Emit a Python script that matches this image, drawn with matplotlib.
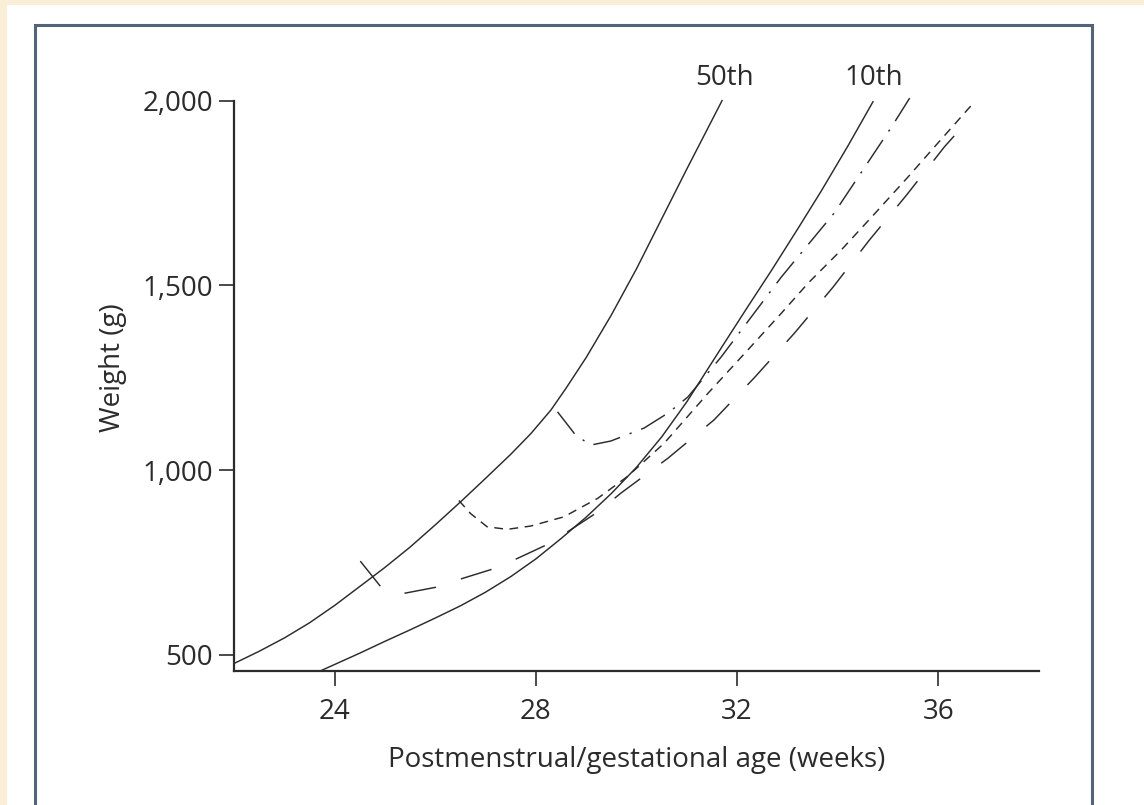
import matplotlib.pyplot as plt
from matplotlib.patches import Rectangle

# values (weeks, grams)
p50_weeks = [22.0, 22.5, 23.0, 23.5, 24.0, 24.71, 25.0, 25.5, 26.0, 26.5, 27.0, 27.5, 27.9,
             28.3, 28.6, 29.0, 29.5, 30.0, 30.5, 31.0, 31.7]
p50_weight = [477, 510, 546, 587, 634, 707, 737, 792, 852, 914, 978, 1043, 1099,
              1163, 1222, 1305, 1420, 1545, 1680, 1815, 2000]

p10_weeks = [23.75, 24.5, 25.0, 25.5, 26.0, 26.5, 27.0, 27.5, 28.0, 28.5, 29.0, 29.5, 30.0,
             30.5, 31.0, 31.68, 32.2, 32.68, 33.2, 33.67, 34.2, 34.7]
p10_weight = [459, 505, 537, 568, 600, 633, 670, 712, 760, 815, 873, 937, 1008,
              1090, 1185, 1330, 1440, 1540, 1652, 1755, 1877, 1997]

# postnatal course, birth at 24.5 weeks
long_weeks = [24.51, 24.95, 25.31, 26.04, 26.56, 27.2, 27.66, 28.29, 29.23, 29.69, 30.63,
              31.54, 32.34, 33.14, 33.91, 34.63, 35.37, 36.12, 36.58]
long_weight = [754, 679, 665, 684, 708, 735, 763, 803, 887, 938, 1033,
               1136, 1250, 1371, 1496, 1623, 1745, 1875, 1945]

# birth at 26.5 weeks
dot_weeks = [26.47, 26.7, 27.03, 27.43, 27.9, 28.56, 29.23, 29.82, 30.55, 31.42, 32.21,
             32.88, 33.41, 34.07, 34.74, 35.4, 35.93, 36.66]
dot_weight = [918, 883, 847, 840, 849, 874, 924, 983, 1073, 1208, 1325,
              1425, 1506, 1596, 1695, 1794, 1876, 1988]

# birth at 28.5 weeks
dd_weeks = [28.43, 28.79, 29.09, 29.49, 30.15, 30.63, 31.02, 31.68, 32.88, 33.93, 35.07, 35.43]
dd_weight = [1158, 1095, 1068, 1079, 1114, 1155, 1198, 1306, 1523, 1696, 1929, 2007]

xticks = [24, 28, 32, 36]
yticks = [500, 1000, 1500, 2000]
ytick_labels = ['500', '1,000', '1,500', '2,000']
curve_labels = [('50th', 31.74), ('10th', 34.71)]

plt.rcParams['font.family'] = ['Open Sans', 'DejaVu Sans']
ink = '#2b2b2b'

fig = plt.figure(figsize=(11.44, 8.05), dpi=100)
fig.patch.set_facecolor('#fbeed6')
fig.patches.append(Rectangle((7 / 1144, 0), 1, 1 - 5 / 805, transform=fig.transFigure,
                             facecolor='white', edgecolor='none', zorder=-2))
fig.patches.append(Rectangle((35 / 1144, -0.05), 1057 / 1144, 1.05 - 25 / 805,
                             transform=fig.transFigure, facecolor='none',
                             edgecolor='#52637a', lw=2.2, zorder=-1))

ax = fig.add_axes([234 / 1144, 134.3 / 805, 805 / 1144, 607 / 805])
ax.set_facecolor('none')
ax.set_zorder(2)

lw = 1.05
ax.plot(p50_weeks, p50_weight, color=ink, lw=lw)
ax.plot(p10_weeks, p10_weight, color=ink, lw=lw)
ax.plot(long_weeks, long_weight, color=ink, lw=lw, dashes=(22, 18))
ax.plot(dot_weeks, dot_weight, color=ink, lw=lw, dashes=(6, 4.5))
ax.plot(dd_weeks, dd_weight, color=ink, lw=lw, dashes=(19, 7, 1.5, 7))

for txt, xpos in curve_labels:
    ax.text(xpos, 2062, txt, ha='center', va='center', fontsize=20, color=ink)

ax.set_xlim(22, 38)
ax.set_ylim(457.5, 2100)
ax.spines['top'].set_visible(False)
ax.spines['right'].set_visible(False)
ax.spines['left'].set_bounds(457.5, 2000)
for s in ['left', 'bottom']:
    ax.spines[s].set_linewidth(1.6)
    ax.spines[s].set_color(ink)

ax.set_xticks(xticks)
ax.set_yticks(yticks)
ax.set_yticklabels(ytick_labels)
ax.tick_params(axis='both', direction='out', length=11, width=1.2, color=ink,
               labelsize=20, labelcolor=ink)
ax.tick_params(axis='x', pad=9)
ax.tick_params(axis='y', pad=4)

ax.set_xlabel('Postmenstrual/gestational age (weeks)', fontsize=20, color=ink, labelpad=14)
ax.set_ylabel('Weight (g)', fontsize=20, color=ink, labelpad=11)

fig.savefig('out.png', dpi=100, facecolor=fig.get_facecolor())
